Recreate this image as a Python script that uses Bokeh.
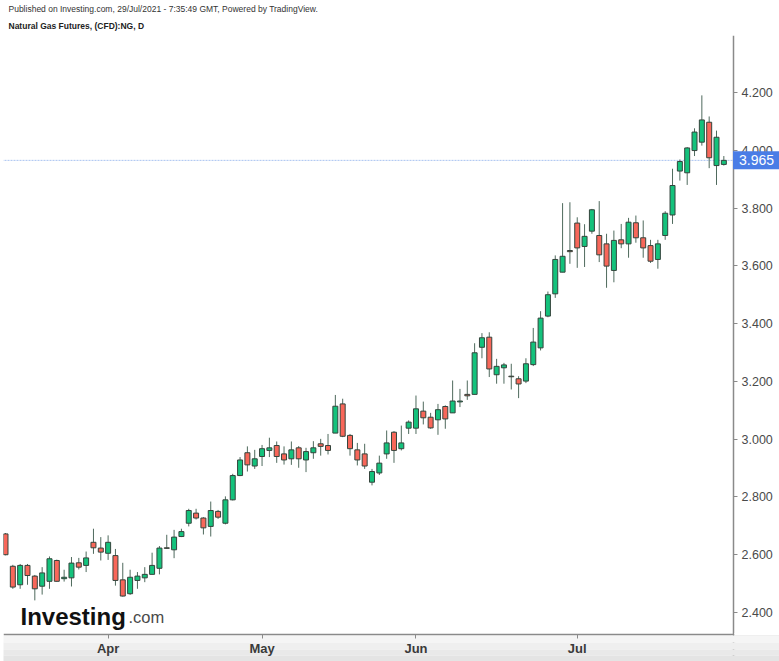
from bokeh.plotting import figure
from bokeh.models import (Range1d, FixedTicker, Label, Span, Title, BoxAnnotation,
                          ColumnDataSource, PrintfTickFormatter)
from bokeh.embed import file_html
from bokeh.resources import INLINE

# ---- data (daily OHLC, Natural Gas Futures, mid-Mar .. 29 Jul 2021) ----
opens = [2.672, 2.560, 2.496, 2.563, 2.526, 2.491, 2.508, 2.580, 2.517, 2.520,
         2.572, 2.563, 2.643, 2.623, 2.605, 2.597, 2.513, 2.465, 2.511, 2.520,
         2.532, 2.553, 2.624, 2.617, 2.663, 2.709, 2.744, 2.727, 2.698, 2.750,
         2.709, 2.790, 2.874, 2.953, 2.907, 2.940, 2.961, 2.978, 2.949, 2.932,
         2.970, 2.928, 2.953, 2.984, 2.978, 3.021, 3.122, 3.013, 2.963, 2.949,
         2.851, 2.883, 2.949, 3.024, 2.967, 3.038, 3.038, 3.097, 3.076, 3.067,
         3.113, 3.091, 3.129, 3.155, 3.155, 3.318, 3.353, 3.223, 3.247, 3.218,
         3.209, 3.201, 3.258, 3.316, 3.426, 3.503, 3.578, 3.653, 3.748, 3.667,
         3.720, 3.705, 3.676, 3.584, 3.690, 3.676, 3.749, 3.697, 3.670, 3.622,
         3.705, 3.776, 3.928, 3.922, 3.999, 4.028, 4.097, 3.947, 3.951]
highs = [2.675, 2.565, 2.568, 2.568, 2.530, 2.557, 2.594, 2.583, 2.548, 2.592,
         2.589, 2.611, 2.690, 2.661, 2.667, 2.620, 2.572, 2.548, 2.540, 2.557,
         2.607, 2.630, 2.669, 2.686, 2.690, 2.759, 2.759, 2.730, 2.784, 2.755,
         2.802, 2.880, 2.938, 2.975, 2.963, 2.980, 3.005, 2.992, 2.975, 2.992,
         2.976, 2.970, 2.993, 3.001, 3.018, 3.153, 3.140, 3.018, 2.987, 2.984,
         2.897, 2.943, 3.030, 3.028, 3.047, 3.065, 3.151, 3.130, 3.091, 3.122,
         3.117, 3.203, 3.174, 3.203, 3.332, 3.367, 3.370, 3.278, 3.264, 3.261,
         3.218, 3.280, 3.385, 3.443, 3.511, 3.636, 3.817, 3.820, 3.768, 3.744,
         3.797, 3.824, 3.711, 3.722, 3.745, 3.766, 3.774, 3.757, 3.690, 3.690,
         3.789, 3.936, 3.968, 4.011, 4.076, 4.190, 4.117, 4.068, 3.980]
lows = [2.598, 2.482, 2.482, 2.496, 2.442, 2.462, 2.482, 2.507, 2.507, 2.490,
        2.549, 2.540, 2.603, 2.580, 2.582, 2.493, 2.455, 2.461, 2.482, 2.505,
        2.532, 2.532, 2.620, 2.588, 2.661, 2.698, 2.722, 2.670, 2.663, 2.724,
        2.705, 2.788, 2.872, 2.888, 2.897, 2.907, 2.938, 2.918, 2.912, 2.911,
        2.901, 2.886, 2.932, 2.943, 2.947, 3.021, 3.007, 2.943, 2.909, 2.897,
        2.840, 2.876, 2.932, 2.918, 2.961, 3.018, 3.018, 3.051, 3.036, 3.015,
        3.036, 3.091, 3.111, 3.136, 3.155, 3.280, 3.215, 3.192, 3.192, 3.172,
        3.142, 3.194, 3.253, 3.307, 3.422, 3.489, 3.578, 3.607, 3.593, 3.596,
        3.711, 3.613, 3.524, 3.543, 3.661, 3.628, 3.680, 3.628, 3.610, 3.590,
        3.690, 3.745, 3.895, 3.880, 3.980, 4.016, 3.938, 3.880, 3.947]
closes = [2.600, 2.488, 2.563, 2.528, 2.482, 2.537, 2.586, 2.508, 2.522, 2.571,
          2.557, 2.589, 2.624, 2.609, 2.643, 2.511, 2.457, 2.522, 2.526, 2.532,
          2.563, 2.623, 2.622, 2.661, 2.680, 2.753, 2.727, 2.693, 2.753, 2.730,
          2.790, 2.874, 2.928, 2.911, 2.932, 2.967, 2.970, 2.940, 2.928, 2.963,
          2.932, 2.957, 2.970, 2.975, 2.961, 3.114, 3.010, 2.967, 2.928, 2.907,
          2.888, 2.917, 2.987, 2.961, 2.987, 3.059, 3.105, 3.074, 3.039, 3.102,
          3.070, 3.132, 3.132, 3.150, 3.299, 3.351, 3.243, 3.252, 3.257, 3.216,
          3.191, 3.261, 3.336, 3.419, 3.500, 3.622, 3.633, 3.649, 3.662, 3.702,
          3.794, 3.638, 3.599, 3.688, 3.676, 3.751, 3.697, 3.662, 3.616, 3.676,
          3.782, 3.878, 3.961, 4.008, 4.063, 4.105, 3.974, 4.045, 3.965]

month_ticks = [14, 35, 56, 78]
month_labels = ["Apr", "May", "Jun", "Jul"]
price_ticks = [2.4, 2.6, 2.8, 3.0, 3.2, 3.4, 3.6, 3.8, 4.0, 4.2]
last_price = 3.965

header_line1 = "Published on Investing.com, 29/Jul/2021 - 7:35:49 GMT, Powered by TradingView."
header_line2 = "Natural Gas Futures, (CFD):NG, D"

# ---- layout helpers (pixel -> data) ----
X0, DX = 5.0, 7.33
Y0, DY = 612.0, 288.9


def xd(px):
    return (px - X0) / DX


def yd(py):
    return 2.4 + (Y0 - py) / DY


FONT = "Liberation Sans"
GREEN = "#14c27c"
RED = "#f8675a"
OUTLINE = "#34443c"
WICK = "#4f6a5d"
TAG_BLUE = "#4a7de6"
AXIS_GREY = "#8a8a8a"
TIME_AXIS_PX = 634    # pixel row of the time axis
PRICE_AXIS_PX = 733   # pixel column of the price axis
# grey strip under the time axis: (top px, bottom px, colour)
band_steps = [(635, 642, "#f5f5f5"), (642, 649, "#efefef"),
              (649, 655, "#e9e9e9"), (655, 662, "#e4e4e4")]

idx = list(range(len(opens)))
up = [c >= o for o, c in zip(opens, closes)]


def build(sel):
    ii = [i for i in idx if sel(i)]
    return ColumnDataSource(dict(
        x=ii,
        top=[max(opens[i], closes[i]) for i in ii],
        bottom=[min(opens[i], closes[i]) for i in ii],
        high=[highs[i] for i in ii],
        low=[lows[i] for i in ii],
    ))


src_up = build(lambda i: up[i])
src_dn = build(lambda i: not up[i])

p = figure(width=779, height=661, output_backend="svg", toolbar_location=None,
           x_range=Range1d(xd(3), xd(779)), y_range=Range1d(yd(661), yd(35)),
           y_axis_location="right",
           min_border_left=3, min_border_right=0, min_border_top=35,
           min_border_bottom=0)
p.outline_line_color = None
p.xgrid.visible = False
p.ygrid.visible = False
p.background_fill_color = "white"
p.border_fill_color = "white"

# header: the figure title is the outer line, the added title the inner one
p.title.text = header_line1
p.title.align = "left"
p.title.offset = 5
p.title.text_font = FONT
p.title.text_font_size = "8.5px"
p.title.text_font_style = "normal"
p.title.text_color = "#333333"
p.title.standoff = 1
p.add_layout(Title(text=header_line2, align="left", offset=5, text_font=FONT,
                   text_font_size="8.5px", text_font_style="bold",
                   text_color="#222222", standoff=9), "above")

# grey strip under the time axis
for y0, y1, col in band_steps:
    p.quad(left=xd(-20), right=xd(800), top=yd(y0), bottom=yd(y1),
           fill_color=col, line_color=None)

# last price line (stops at the price axis)
p.segment(x0=[xd(-20)], y0=[last_price], x1=[xd(PRICE_AXIS_PX)], y1=[last_price],
          line_color="#a9c3f0", line_width=1, line_dash="2 1")

for src, col in [(src_up, GREEN), (src_dn, RED)]:
    p.segment(x0="x", y0="low", x1="x", y1="high", source=src,
              line_color=WICK, line_width=1)
    p.vbar(x="x", width=0.68, top="top", bottom="bottom", source=src,
           fill_color=col, line_color=OUTLINE, line_width=1)

# price axis, fixed at its column inside the frame
ya = p.yaxis[0]
ya.fixed_location = xd(PRICE_AXIS_PX)
ya.ticker = FixedTicker(ticks=price_ticks)
ya.formatter = PrintfTickFormatter(format="%.3f")
ya.major_label_text_font = FONT
ya.major_label_text_font_size = "12.5px"
ya.major_label_text_color = "#4a4a4a"
ya.axis_line_color = AXIS_GREY
ya.axis_line_width = 1.5
ya.major_tick_line_color = AXIS_GREY
ya.major_tick_out = 4
ya.major_tick_in = 0
ya.minor_tick_line_color = None
ya.major_label_standoff = 4

# time axis, fixed at its row inside the frame
xa = p.xaxis[0]
xa.fixed_location = yd(TIME_AXIS_PX)
xa.ticker = FixedTicker(ticks=month_ticks)
xa.major_label_overrides = {t: l for t, l in zip(month_ticks, month_labels)}
xa.major_label_text_font = FONT
xa.major_label_text_font_size = "13px"
xa.major_label_text_font_style = "bold"
xa.major_label_text_color = "#3a3a3a"
xa.axis_line_color = AXIS_GREY
xa.axis_line_width = 1.5
xa.major_tick_line_color = AXIS_GREY
xa.major_tick_out = 4
xa.major_tick_in = 0
xa.minor_tick_line_color = None
xa.major_label_standoff = 2

# trim the axis lines where the reference has none
p.add_layout(BoxAnnotation(left=xd(PRICE_AXIS_PX + 0.8), right=xd(800),
                           top=yd(TIME_AXIS_PX - 1.5), bottom=yd(635),
                           fill_color="white", fill_alpha=1, line_color=None))
for y0, y1, col in band_steps:
    p.add_layout(BoxAnnotation(left=xd(PRICE_AXIS_PX - 2), right=xd(PRICE_AXIS_PX + 2),
                               top=yd(y0), bottom=yd(y1), fill_color=col,
                               fill_alpha=1, line_color=None))

# last-price tag
half_h = 9 / DY
p.add_layout(BoxAnnotation(left=xd(PRICE_AXIS_PX - 0.5), right=xd(800),
                           top=last_price + half_h, bottom=last_price - half_h,
                           fill_color=TAG_BLUE, fill_alpha=1, line_color=None))
p.add_layout(Label(x=xd(756), y=last_price, text=f"{last_price:.3f}",
                   text_align="center", text_baseline="middle",
                   text_font=FONT, text_font_size="14px", text_color="white"))

# watermark logo
p.add_layout(Label(x=xd(20), y=yd(616), text="Investing", text_font=FONT,
                   text_font_size="24px", text_font_style="bold",
                   text_color="#111111", text_baseline="alphabetic"))
p.add_layout(Label(x=xd(128), y=yd(616), text=".com", text_font=FONT,
                   text_font_size="16.5px", text_color="#4a4a4a",
                   text_baseline="alphabetic"))

open("out.html", "w").write(file_html(p, INLINE))
